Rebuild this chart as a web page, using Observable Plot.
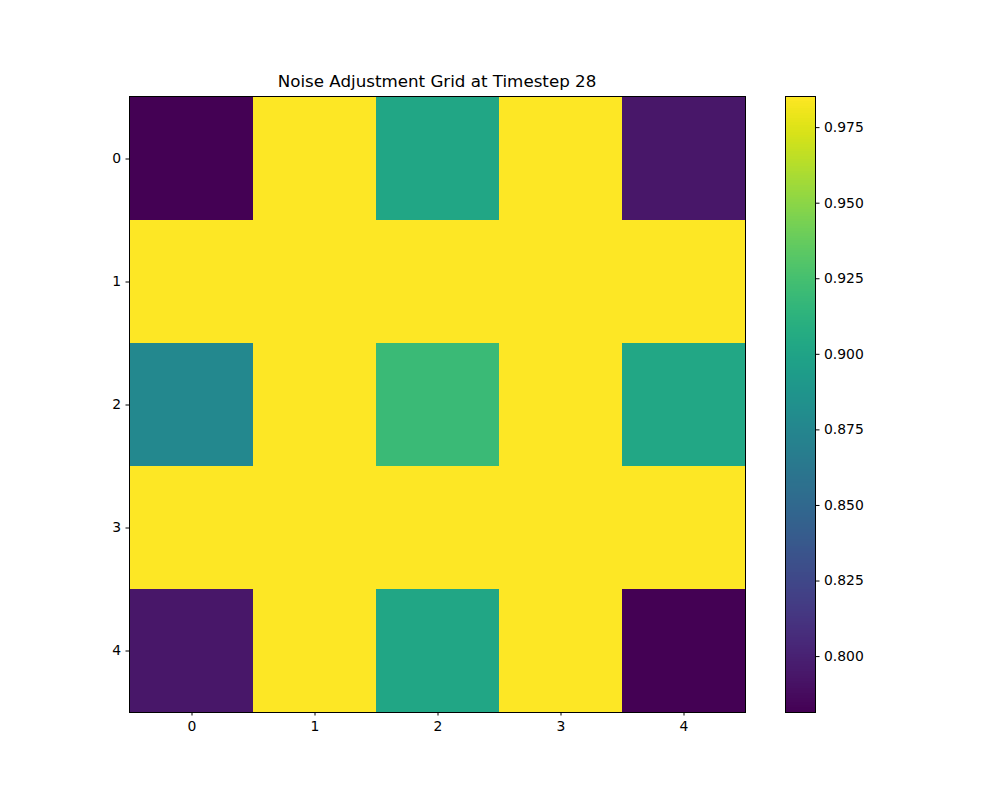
<!DOCTYPE html>
<html>
<head>
<meta charset="utf-8">
<script src="https://cdn.jsdelivr.net/npm/d3@7"></script>
<script src="https://cdn.jsdelivr.net/npm/@observablehq/plot@0.6"></script>
<style>
  html, body { margin: 0; padding: 0; background: #fff; }
  #fig { position: relative; width: 1000px; height: 800px; font-family: "DejaVu Sans", sans-serif; }
  #title { position: absolute; left: 129px; width: 616px; top: 71px; text-align: center; font-size: 16.7px; color: #000; }
  #main, #cbar { position: absolute; top: 0; }
  #main { left: 0; }
  #cbar { left: 760px; }
</style>
</head>
<body>
<div id="fig">
  <div id="main"></div>
  <div id="cbar"></div>
  <div id="title">Noise Adjustment Grid at Timestep 28</div>
</div>
<script>
const titleText = "Noise Adjustment Grid at Timestep 28";
const rows = [0, 1, 2, 3, 4];
const cols = [0, 1, 2, 3, 4];
const values = [
  [0.7815, 0.9853, 0.902, 0.9853, 0.794],
  [0.9853, 0.9853, 0.9853, 0.9853, 0.9853],
  [0.877, 0.9853, 0.920, 0.9853, 0.903],
  [0.9853, 0.9853, 0.9853, 0.9853, 0.9853],
  [0.794, 0.9853, 0.902, 0.9853, 0.7815]
];
const colorTicks = [0.800, 0.825, 0.850, 0.875, 0.900, 0.925, 0.950, 0.975];

const cells = [];
rows.forEach((r, i) => cols.forEach((c, j) => cells.push({row: r, col: c, value: values[i][j]})));
const lo = d3.min(cells, d => d.value);
const hi = d3.max(cells, d => d.value);

const font = "DejaVu Sans, sans-serif";

const main = Plot.plot({
  width: 760,
  height: 800,
  marginLeft: 129,
  marginRight: 15,
  marginTop: 96,
  marginBottom: 88,
  style: {fontFamily: font, fontSize: "13.9px", color: "#000", background: "transparent"},
  x: {domain: cols, padding: 0, label: null, tickSize: 3.5, tickPadding: 5},
  y: {domain: rows, padding: 0, label: null, tickSize: 3.5, tickPadding: 5},
  color: {type: "linear", scheme: "viridis", domain: [lo, hi]},
  marks: [
    Plot.cell(cells, {x: "col", y: "row", fill: "value", inset: 0}),
    Plot.frame({stroke: "#000", strokeWidth: 1})
  ]
});
document.getElementById("main").appendChild(main);

const n = 256;
const steps = d3.range(n).map(i => ({
  v0: lo + i * (hi - lo) / n,
  v1: lo + (i + 1) * (hi - lo) / n
}));

const cbar = Plot.plot({
  width: 240,
  height: 800,
  marginLeft: 25,
  marginRight: 185,
  marginTop: 96,
  marginBottom: 88,
  style: {fontFamily: font, fontSize: "13.9px", color: "#000", background: "transparent"},
  x: {domain: [0, 1], axis: null},
  y: {domain: [lo, hi], axis: "right", ticks: colorTicks, tickFormat: d3.format(".3f"), label: null, tickSize: 3.5, tickPadding: 5},
  color: {type: "linear", scheme: "viridis", domain: [lo, hi]},
  marks: [
    Plot.rect(steps, {x1: () => 0, x2: () => 1, y1: "v0", y2: "v1", fill: d => (d.v0 + d.v1) / 2, inset: 0, shapeRendering: "crispEdges"}),
    Plot.frame({stroke: "#000", strokeWidth: 1})
  ]
});
document.getElementById("cbar").appendChild(cbar);
</script>
</body>
</html>
